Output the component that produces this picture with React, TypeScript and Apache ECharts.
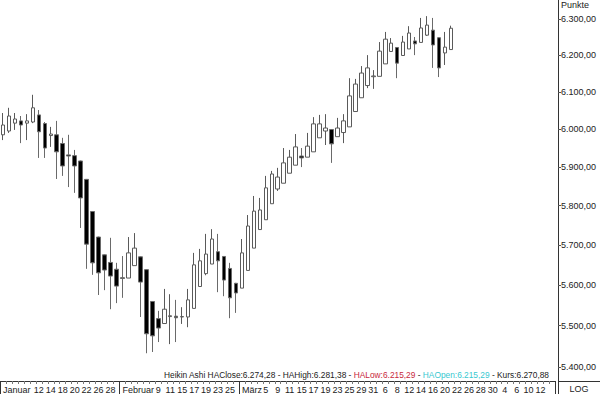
import React, { useEffect, useRef } from 'react';
import * as echarts from 'echarts';

// Trading days (2010) per month
const janDays = [4, 5, 6, 7, 8, 11, 12, 13, 14, 15, 18, 19, 20, 21, 22, 25, 26, 27, 28, 29];
const febDays = [1, 2, 3, 4, 5, 8, 9, 10, 11, 12, 15, 16, 17, 18, 19, 22, 23, 24, 25, 26];
const marDays = [1, 2, 3, 4, 5, 8, 9, 10, 11, 12, 15, 16, 17, 18, 19, 22, 23, 24, 25, 26, 29, 30, 31];
const aprDays = [1, 6, 7, 8, 9, 12, 13, 14, 15, 16, 19, 20, 21, 22, 23, 26, 27, 28, 29, 30];
const mayDays = [3, 4, 5, 6, 7, 10, 11, 12, 13, 14];

const categories: string[] = [
  ...janDays.map((d) => `1-${d}`),
  ...febDays.map((d) => `2-${d}`),
  ...marDays.map((d) => `3-${d}`),
  ...aprDays.map((d) => `4-${d}`),
  ...mayDays.map((d) => `5-${d}`),
];

// Tick labels shown on the x axis
const dayTickLabels = [
  '1-12', '1-14', '1-18', '1-20', '1-22', '1-26', '1-28',
  '2-9', '2-11', '2-15', '2-17', '2-19', '2-23', '2-25',
  '3-5', '3-9', '3-11', '3-15', '3-17', '3-19', '3-23', '3-25', '3-29', '3-31',
  '4-6', '4-8', '4-12', '4-14', '4-16', '4-20', '4-22', '4-26', '4-28', '4-30',
  '5-4', '5-6', '5-10', '5-12',
];
const monthTickDates = ['1-4', '2-1', '3-1'];
const monthTickNames = ['Januar', 'Februar', 'März'];

// Heikin Ashi values
const haOpen = [
  5985, 5995, 6016, 6022, 6016, 6019, 6038, 6015, 5983, 5985,
  5962, 5932, 5930, 5916, 5868, 5785, 5720, 5675, 5656, 5639,
  5618, 5617, 5648, 5670, 5638, 5559, 5517, 5505, 5522, 5523,
  5521, 5521, 5542, 5596, 5628, 5652, 5683, 5671, 5641, 5604,
  5592, 5636, 5692, 5739, 5764, 5805, 5843, 5858, 5884, 5905,
  5929, 5926, 5940, 5977, 5995, 5999, 5980, 5991, 6006, 6047,
  6084, 6117, 6141, 6142, 6176, 6210, 6221, 6199, 6217, 6239,
  6235, 6255, 6269, 6248, 6206, 6215.29,
];
const haClose = [
  6011, 6035, 6027, 6011, 6022, 6057, 5993, 5950, 5987, 5940,
  5903, 5929, 5903, 5820, 5702, 5655, 5630, 5637, 5622, 5597,
  5616, 5680, 5692, 5607, 5480, 5475, 5494, 5540, 5524, 5519,
  5522, 5563, 5650, 5660, 5677, 5715, 5660, 5612, 5568, 5580,
  5680, 5748, 5786, 5789, 5846, 5882, 5874, 5911, 5926, 5953,
  5924, 5955, 6014, 6014, 6003, 5961, 6003, 6022, 6089, 6121,
  6151, 6165, 6143, 6211, 6244, 6233, 6178, 6236, 6261, 6231,
  6275, 6283, 6228, 6165, 6222, 6274.28,
];
const haLow = [
  5971, 5990, 5998, 5963, 5971, 6016, 5924, 5924, 5953, 5869,
  5877, 5848, 5833, 5743, 5640, 5625, 5575, 5587, 5540, 5555,
  5568, 5617, 5648, 5521, 5433, 5436, 5460, 5505, 5455, 5460,
  5504, 5496, 5542, 5595, 5624, 5652, 5582, 5572, 5518, 5531,
  5592, 5636, 5692, 5739, 5764, 5805, 5838, 5858, 5884, 5905,
  5900, 5926, 5940, 5977, 5958, 5911, 5980, 5963, 6006, 6047,
  6084, 6110, 6108, 6142, 6176, 6210, 6137, 6199, 6217, 6200,
  6235, 6253, 6165, 6140, 6173, 6215.29,
];
const haHigh = [
  6043, 6057, 6043, 6035, 6040, 6092, 6051, 6019, 6006, 6022,
  5977, 5985, 5945, 5917, 5869, 5786, 5721, 5676, 5718, 5655,
  5672, 5720, 5730, 5671, 5639, 5560, 5536, 5590, 5577, 5563,
  5545, 5590, 5680, 5690, 5728, 5740, 5728, 5672, 5655, 5605,
  5715, 5776, 5825, 5820, 5877, 5890, 5898, 5950, 5945, 5987,
  5950, 5990, 6032, 6038, 6040, 6000, 6030, 6040, 6137, 6135,
  6170, 6200, 6159, 6236, 6264, 6247, 6222, 6253, 6280, 6250,
  6303, 6308, 6303, 6249, 6264, 6281.38,
];
const kurs = 6270.88;

const priceTicks = [5400, 5500, 5600, 5700, 5800, 5900, 6000, 6100, 6200, 6300];

function de(n: number): string {
  const [i, f] = n.toFixed(2).split('.');
  return i.replace(/\B(?=(\d{3})+(?!\d))/g, '.') + ',' + f;
}

const FONT = 'Liberation Sans, Arial, sans-serif';

export default function App() {
  const ref = useRef<HTMLDivElement>(null);
  useEffect(() => {
    if (!ref.current) return;
    const chart = echarts.init(ref.current, undefined, { renderer: 'svg' });

    const gridTop = 0;
    const gridH = 381;
    const PX = 348 / Math.log(6300 / 5400);
    const yMax = Math.log(6300) + 19 / PX;
    const yMin = Math.log(6300) - (gridH - 19) / PX;

    const daySet = new Set(dayTickLabels);
    const monthSet = new Set(monthTickDates);

    const data = haOpen.map((o, i) => [
      Math.log(o),
      Math.log(haClose[i]),
      Math.log(haLow[i]),
      Math.log(haHigh[i]),
    ]);
    const last = haOpen.length - 1;

    const band = 5.987;
    const gridLeft = -1.3;
    const gridW = categories.length * band;
    const axisX = 558;
    const LF = 8.35;

    chart.setOption({
      animation: false,
      backgroundColor: '#ffffff',
      grid: { left: gridLeft, top: gridTop, width: gridW, height: gridH, containLabel: false },
      xAxis: [
        {
          type: 'category',
          data: categories,
          boundaryGap: true,
          position: 'bottom',
          axisLine: { show: true, lineStyle: { color: '#333', width: 1 } },
          axisTick: { show: true, interval: 0, length: 3, lineStyle: { color: '#777' } },
          axisLabel: {
            interval: (_i: number, v: string) => daySet.has(v),
            formatter: (v: string) => (daySet.has(v) ? v.split('-')[1] : ''),
            fontSize: 9,
            fontFamily: FONT,
            color: '#222',
            margin: 4,
          },
          splitLine: { show: false },
        },
        {
          type: 'category',
          data: categories,
          boundaryGap: true,
          position: 'bottom',
          axisLine: { show: false },
          axisTick: {
            show: true,
            interval: (_i: number, v: string) => monthSet.has(v),
            length: 13,
            lineStyle: { color: '#333' },
          },
          axisLabel: {
            interval: (_i: number, v: string) => monthSet.has(v),
            formatter: (v: string) => {
              const k = monthTickDates.indexOf(v);
              return k >= 0 ? monthTickNames[k] : '';
            },
            align: 'left',
            fontSize: 9,
            fontFamily: FONT,
            color: '#222',
            margin: 4,
          },
          splitLine: { show: false },
        },
      ],
      yAxis: {
        type: 'value',
        position: 'right',
        offset: axisX - (gridLeft + gridW),
        min: yMin,
        max: yMax,
        axisLine: { show: true, lineStyle: { color: '#333', width: 1 } },
        axisTick: {
          show: true,
          customValues: priceTicks.map((t) => Math.log(t)),
          length: 3,
          inside: false,
          lineStyle: { color: '#555' },
        },
        axisLabel: {
          customValues: priceTicks.map((t) => Math.log(t)),
          formatter: (v: number) => de(Math.round(Math.exp(v))),
          fontSize: 9,
          fontFamily: FONT,
          color: '#222',
          margin: 3,
        },
        splitLine: { show: false },
      },
      series: [
        {
          type: 'candlestick',
          xAxisIndex: 0,
          data,
          barWidth: 4,
          itemStyle: {
            color: '#ffffff',
            color0: '#000000',
            borderColor: '#5a5a5a',
            borderColor0: '#6a6a6a',
            borderWidth: 1,
          },
        },
      ],
      graphic: [
        {
          type: 'text',
          style: { text: 'Punkte', x: 561, y: 5, align: 'left', verticalAlign: 'middle', fontSize: 9, fontFamily: FONT, fill: '#222' },
        },
        {
          type: 'line',
          shape: { x1: axisX + 0.5, y1: gridH, x2: axisX + 0.5, y2: 394 },
          style: { stroke: '#333', lineWidth: 1 },
        },
        {
          type: 'line',
          shape: { x1: axisX, y1: gridH + 0.5, x2: 600, y2: gridH + 0.5 },
          style: { stroke: '#333', lineWidth: 1 },
        },
        {
          type: 'text',
          style: { text: 'LOG', x: 579, y: 389, align: 'center', verticalAlign: 'middle', fontSize: 9, fontFamily: FONT, fill: '#222' },
        },
        {
          type: 'text',
          style: {
            text:
              `{d|Heikin Ashi HAClose:${de(haClose[last])} - HAHigh:${de(haHigh[last])} - }` +
              `{r|HALow:${de(haLow[last])}}{d| - }{c|HAOpen:${de(haOpen[last])}}{d| - Kurs:${de(kurs)}}`,
            x: 549,
            y: 375,
            align: 'right',
            verticalAlign: 'middle',
            fontSize: LF,
            fontFamily: FONT,
            rich: {
              d: { fill: '#222', fontSize: LF, fontFamily: FONT },
              r: { fill: '#c8283c', fontSize: LF, fontFamily: FONT },
              c: { fill: '#38c8d0', fontSize: LF, fontFamily: FONT },
            },
          },
        },
      ],
    });
    return () => chart.dispose();
  }, []);
  return (
    <div
      ref={ref}
      style={{ position: 'absolute', left: 0, top: 0, width: 600, height: 394, background: '#fff' }}
    />
  );
}
